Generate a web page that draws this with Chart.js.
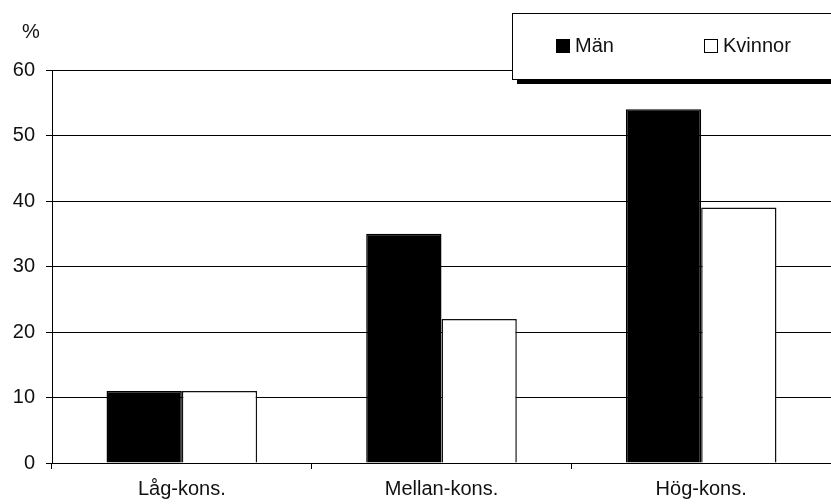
<!DOCTYPE html>
<html>
<head>
<meta charset="utf-8">
<script src="https://cdn.jsdelivr.net/npm/chart.js@4/dist/chart.umd.min.js"></script>
<style>
  html, body { margin: 0; padding: 0; background: #fff; }
  #wrap { width: 831px; height: 504px; position: relative; }
</style>
</head>
<body>
<div id="wrap"><canvas id="c" width="831" height="504"></canvas></div>
<script>
// Andel per konsumtionsgrupp, procent
const categories = ['Låg-kons.', 'Mellan-kons.', 'Hög-kons.'];
const man = [11, 35, 54];
const kvinnor = [11, 22, 39];
const seriesNames = ['Män', 'Kvinnor'];
const yTicks = [0, 10, 20, 30, 40, 50, 60];

const FONT = '"Liberation Sans", Arial, sans-serif';

// Legend box with drop shadow and the "%" unit label
const decorations = {
  id: 'decorations',
  afterDraw(chart) {
    const ctx = chart.ctx;
    ctx.save();
    // unit label above the y axis
    ctx.fillStyle = '#111';
    ctx.font = '20px ' + FONT;
    ctx.textAlign = 'center';
    ctx.textBaseline = 'middle';
    ctx.fillText('%', 31, 32);

    // legend frame
    const bx = 512, by = 13, bw = 330, bh = 66;
    ctx.fillStyle = '#000';
    ctx.fillRect(bx + 5, by + 5, bw, bh);
    ctx.fillStyle = '#fff';
    ctx.fillRect(bx, by, bw, bh);
    ctx.strokeStyle = '#000';
    ctx.lineWidth = 1;
    ctx.strokeRect(bx + 0.5, by + 0.5, bw, bh);

    // legend entries
    const items = chart.data.datasets.map(d => ({ label: d.label, fill: d.backgroundColor }));
    const xs = [556, 704];
    ctx.textAlign = 'left';
    items.forEach((it, i) => {
      const x = xs[i];
      ctx.fillStyle = it.fill;
      ctx.fillRect(x + 0.5, 39.5, 13, 13);
      ctx.strokeStyle = '#000';
      ctx.lineWidth = 1;
      ctx.strokeRect(x + 0.5, 39.5, 13, 13);
      ctx.fillStyle = '#111';
      ctx.font = '20px ' + FONT;
      ctx.fillText(it.label, x + 19, 46);
    });
    ctx.restore();
  }
};

new Chart(document.getElementById('c'), {
  type: 'bar',
  data: {
    labels: categories,
    datasets: [
      { label: seriesNames[0], data: man, backgroundColor: '#000', borderColor: '#000', borderWidth: 1.5 },
      { label: seriesNames[1], data: kvinnor, backgroundColor: '#fff', borderColor: '#111', borderWidth: 1.5 }
    ]
  },
  options: {
    responsive: false,
    animation: false,
    devicePixelRatio: 1,
    layout: { padding: { top: 70, right: 0, left: 0, bottom: 0 } },
    plugins: { legend: { display: false }, tooltip: { enabled: false } },
    datasets: { bar: { categoryPercentage: 0.58, barPercentage: 1.0 } },
    scales: {
      x: {
        afterFit(scale) { scale.height = 41; scale.paddingLeft = 0; scale.paddingRight = 0; },
        grid: { display: true, drawOnChartArea: false, drawTicks: true, tickLength: 6, color: '#000', offset: true },
        border: { display: true, color: '#000', width: 1 },
        ticks: { color: '#111', font: { family: FONT, size: 20 }, padding: 8 }
      },
      y: {
        min: 0, max: 60,
        afterFit(scale) { scale.width = 52; },
        afterBuildTicks(scale) { scale.ticks = yTicks.map(v => ({ value: v })); },
        grid: { display: true, drawTicks: true, tickLength: 6, color: '#000', lineWidth: 1 },
        border: { display: true, color: '#000', width: 1 },
        ticks: { color: '#111', font: { family: FONT, size: 20 }, padding: 11 }
      }
    }
  },
  plugins: [decorations]
});
</script>
</body>
</html>
